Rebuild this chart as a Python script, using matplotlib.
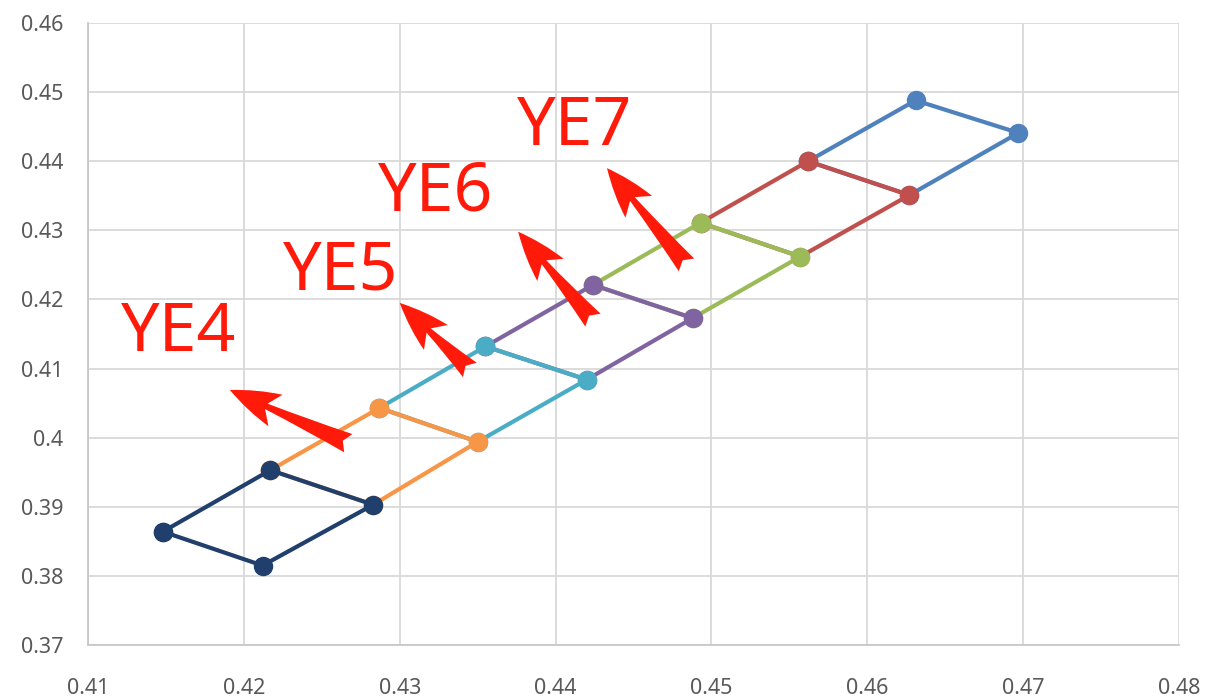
import matplotlib
matplotlib.use("Agg")
import matplotlib.pyplot as plt

# shared corner points of the parallelograms
# series order follows the spreadsheet: blue first, navy last
blue_x = [0.4562, 0.4631, 0.4697, 0.4627]
blue_y = [0.4400, 0.4488, 0.4441, 0.4351]
red_x = [0.4493, 0.4562, 0.4627, 0.4557]
red_y = [0.4311, 0.4400, 0.4351, 0.4262]
green_x = [0.4424, 0.4493, 0.4557, 0.4488]
green_y = [0.4221, 0.4311, 0.4262, 0.4173]
purple_x = [0.4355, 0.4424, 0.4488, 0.4420]
purple_y = [0.4132, 0.4221, 0.4173, 0.4084]
cyan_x = [0.4287, 0.4355, 0.4420, 0.4350]
cyan_y = [0.4043, 0.4132, 0.4084, 0.3994]
orange_x = [0.4217, 0.4287, 0.4350, 0.4283]
orange_y = [0.3953, 0.4043, 0.3994, 0.3903]
navy_x = [0.4148, 0.4217, 0.4283, 0.4212]
navy_y = [0.3864, 0.3953, 0.3903, 0.3815]

series = [
    (blue_x, blue_y, "#4F81BD"),
    (red_x, red_y, "#C0504D"),
    (green_x, green_y, "#9BBB59"),
    (purple_x, purple_y, "#8064A2"),
    (cyan_x, cyan_y, "#4BACC6"),
    (orange_x, orange_y, "#F79646"),
    (navy_x, navy_y, "#213F6C"),
]

# labels with their red arrows (text centre, arrow tail, arrow tip)
labels = ["YE4", "YE5", "YE6", "YE7"]
label_x = [0.4158, 0.4262, 0.4323, 0.4412]
label_y = [0.4151, 0.4240, 0.4355, 0.4450]
tail_x = [0.4267, 0.4345, 0.4424, 0.4484]
tail_y = [0.3992, 0.4098, 0.4170, 0.4250]
tip_x = [0.4191, 0.4300, 0.4376, 0.4433]
tip_y = [0.4069, 0.4195, 0.4298, 0.4390]

x_ticks = [0.41, 0.42, 0.43, 0.44, 0.45, 0.46, 0.47, 0.48]
y_ticks = [0.37, 0.38, 0.39, 0.40, 0.41, 0.42, 0.43, 0.44, 0.45, 0.46]
x_labels = ["0.41", "0.42", "0.43", "0.44", "0.45", "0.46", "0.47", "0.48"]
y_labels = ["0.37", "0.38", "0.39", "0.4", "0.41", "0.42", "0.43", "0.44", "0.45", "0.46"]

fig = plt.figure(figsize=(12.06, 6.97), dpi=100)
ax = fig.add_axes([88 / 1206, 1 - 645 / 697, 1091 / 1206, 622 / 697])

for i, (xs, ys, col) in enumerate(series):
    ax.plot(xs + xs[:1], ys + ys[:1], color=col, lw=3.0, marker="o", ms=13,
            solid_joinstyle="round", zorder=3 + i)

for lab, lx, ly, tx, ty, hx, hy in zip(labels, label_x, label_y, tail_x, tail_y, tip_x, tip_y):
    ax.text(lx, ly, lab, color="#FF1A0A", fontsize=49, family="Noto Sans",
            ha="center", va="center", zorder=20)
    ax.annotate("", xy=(hx, hy), xytext=(tx, ty),
                arrowprops=dict(arrowstyle="fancy,head_length=0.8,head_width=0.55,tail_width=0.32",
                                color="#FF1A0A", lw=0, shrinkA=0, shrinkB=0,
                                mutation_scale=45),
                zorder=20)

ax.set_xlim(0.41, 0.48)
ax.set_ylim(0.37, 0.46)
ax.set_xticks(x_ticks)
ax.set_xticklabels(x_labels)
ax.set_yticks(y_ticks)
ax.set_yticklabels(y_labels)
ax.tick_params(length=0, labelsize=15.5, labelcolor="#595959")
ax.tick_params(axis="x", pad=24)
ax.tick_params(axis="y", pad=18)
for lab in ax.get_xticklabels() + ax.get_yticklabels():
    lab.set_family("Noto Sans")
ax.grid(True, color="#D9D9D9", lw=1.3)
ax.set_axisbelow(True)
for side in ["top", "right"]:
    ax.spines[side].set_visible(False)
for side in ["left", "bottom"]:
    ax.spines[side].set_color("#C8C8C8")
    ax.spines[side].set_linewidth(1.3)

fig.savefig("out.png", dpi=100)
